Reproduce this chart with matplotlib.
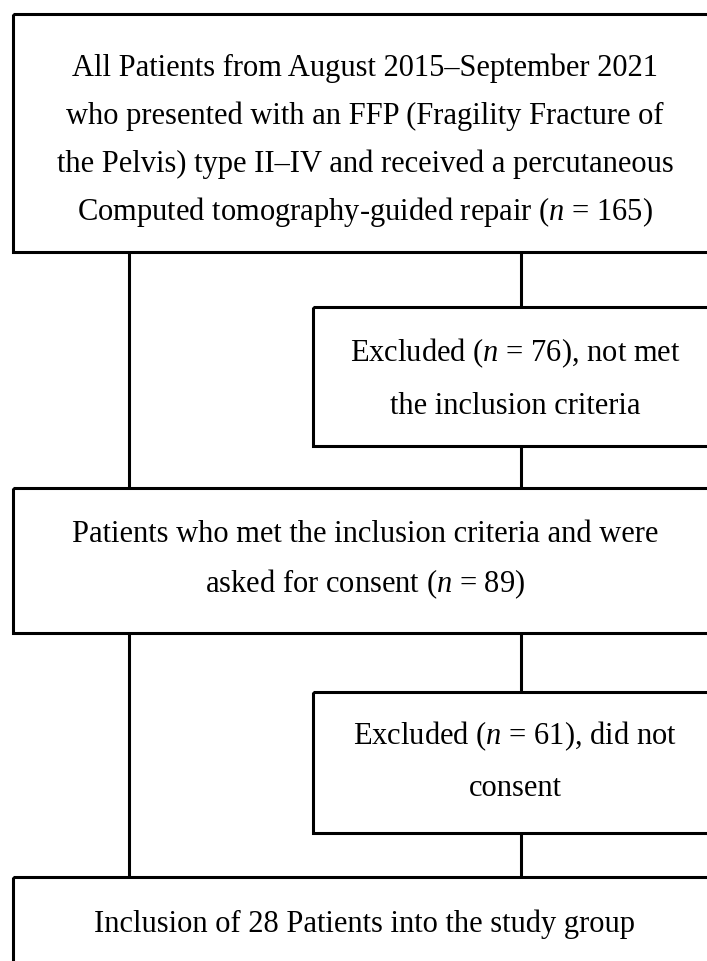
import matplotlib
matplotlib.use("Agg")
import matplotlib.pyplot as plt
from matplotlib.patches import Rectangle

plt.rcParams['font.family'] = ['Liberation Serif', 'DejaVu Serif']
plt.rcParams['mathtext.fontset'] = 'custom'
plt.rcParams['mathtext.rm'] = 'Liberation Serif'
plt.rcParams['mathtext.it'] = 'Liberation Serif:italic'

# Flowchart content
box_texts = [
    ["All Patients from August 2015\u2013September 2021",
     "who presented with an FFP (Fragility Fracture of",
     "the Pelvis) type II\u2013IV and received a percutaneous",
     "Computed tomography-guided repair ($\\it{n}$ = 165)"],
    ["Excluded ($\\it{n}$ = 76), not met",
     "the inclusion criteria"],
    ["Patients who met the inclusion criteria and were",
     "asked for consent ($\\it{n}$ = 89)"],
    ["Excluded ($\\it{n}$ = 61), did not",
     "consent"],
    ["Inclusion of 28 Patients into the study group"],
]

# layout (pixel coordinates): left, top, right, bottom
boxes = [
    (13, 14, 717, 252),
    (313, 307, 717, 446),
    (13, 488, 717, 633),
    (313, 692, 717, 833),
    (13, 877, 717, 990),
]
line_y = [
    [68, 116, 164, 212],
    [353, 406],
    [535, 584],
    [736, 789],
    [924],
]
LW = 2.2
FS = 22

fig = plt.figure(figsize=(7.07, 9.61), dpi=100)
ax = fig.add_axes([0, 0, 1, 1])
ax.set_xlim(0, 707)
ax.set_ylim(961, 0)
ax.axis('off')

for (l, t, r, b), lines, ys in zip(boxes, box_texts, line_y):
    ax.add_patch(Rectangle((l, t), r - l, b - t, fill=False, edgecolor='black',
                           linewidth=LW, joinstyle='miter', clip_on=True))
    cx = (l + r) / 2
    for s, y in zip(lines, ys):
        ax.text(cx, y, s, ha='center', va='center', fontsize=FS, color='black')

# connectors
left_x, right_x = 129, 521
segs = [
    (left_x, 252, 488),
    (left_x, 633, 877),
    (right_x, 252, 307),
    (right_x, 446, 488),
    (right_x, 633, 692),
    (right_x, 833, 877),
]
for x, y0, y1 in segs:
    ax.plot([x, x], [y0, y1], color='black', linewidth=LW, solid_capstyle='butt')

fig.savefig("out.png", dpi=100)
